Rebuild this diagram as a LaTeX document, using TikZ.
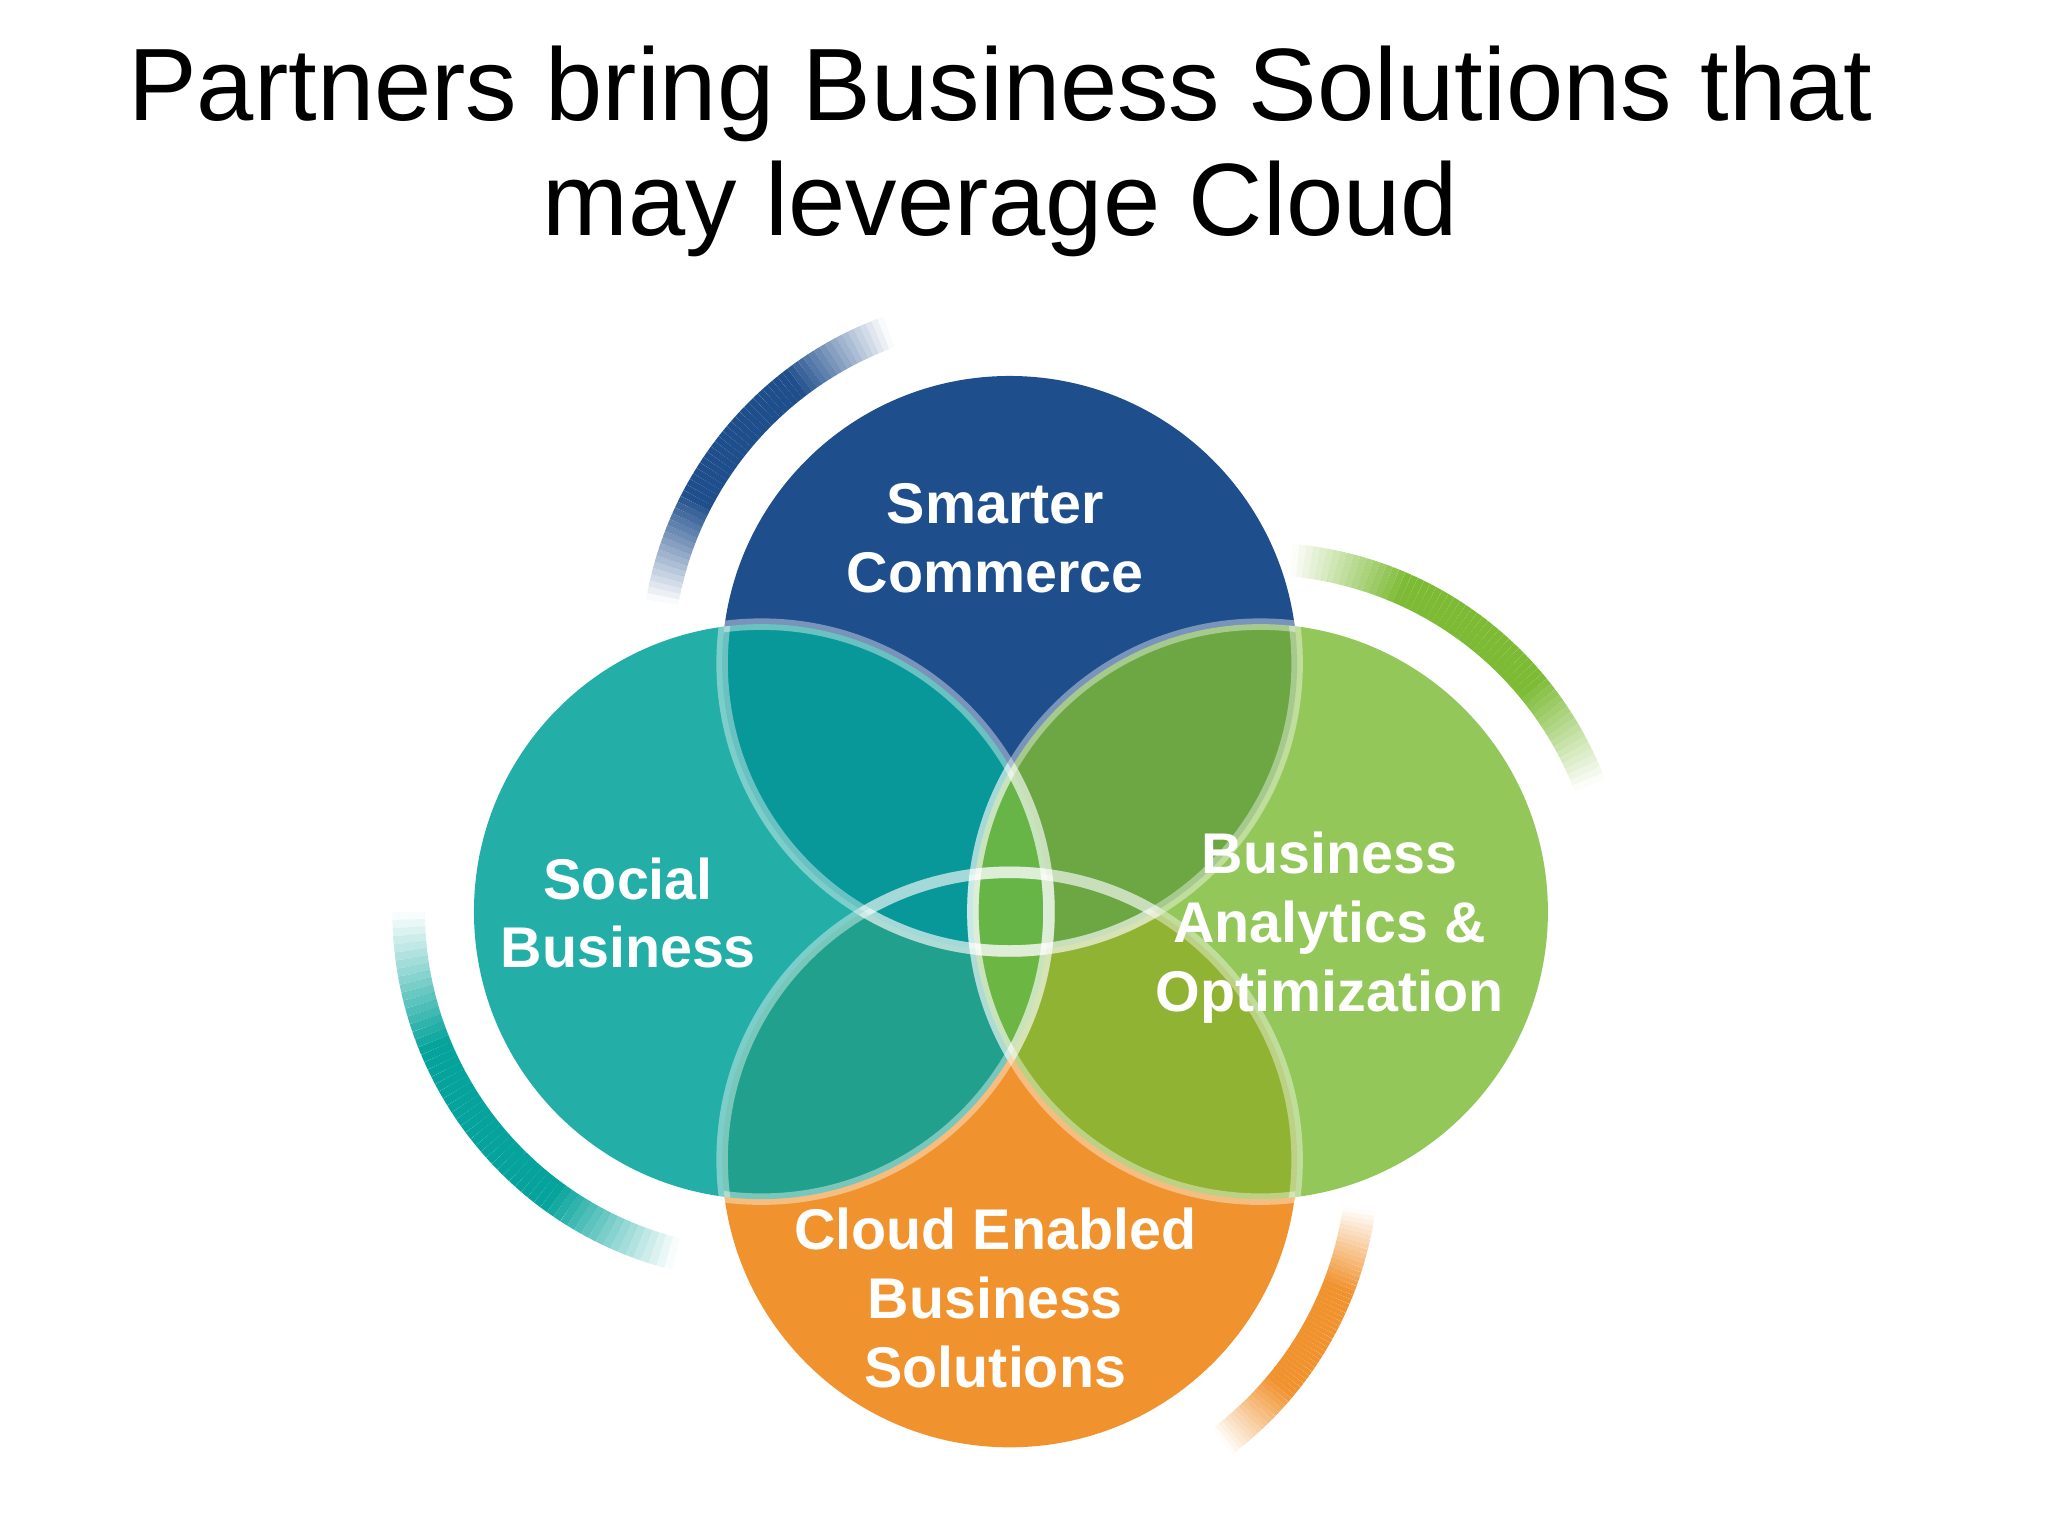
\documentclass[tikz,border=0pt]{standalone}
\usepackage{fontspec}
\setmainfont{Liberation Sans}
\begin{document}
\begin{tikzpicture}[x=0.01cm,y=0.01cm,
  lbl/.style={text=white,font=\fontsize{12.5}{15}\selectfont\bfseries,align=center}]
\definecolor{cblue}{HTML}{1F4E8C}
\definecolor{cteal}{HTML}{05A39B}
\definecolor{cgreen}{HTML}{7DBB35}
\definecolor{corange}{HTML}{F0922E}
\useasboundingbox (0,0) rectangle (1568,1176);
\coordinate (T) at (773,668);
\coordinate (L) at (583,478);
\coordinate (R) at (965,478);
\coordinate (B) at (773,288);
% outer fading arcs
\foreach \c/\col/\a/\b in {T/cblue/170/110, R/cgreen/85/21, L/cteal/180/256, B/corange/-8/-53}{
  \foreach \i in {0,...,59}{
    \pgfmathsetmacro{\sa}{\a+(\b-\a)*\i/60}
    \pgfmathsetmacro{\ea}{\a+(\b-\a)*(\i+1)/60}
    \pgfmathsetmacro{\op}{min(1,1.7*(1-abs(\i-29.5)/30))}
    \draw[\col,line width=0.25cm,draw opacity=\op,line cap=butt] (\c) ++(\sa:2.7cm) arc[start angle=\sa,end angle=\ea,radius=2.7cm];
  }
}
% discs
\fill[corange] (B) circle[radius=2.2cm];
\fill[cblue] (T) circle[radius=2.2cm];
\fill[cteal,fill opacity=0.88] (L) circle[radius=2.2cm];
\fill[cgreen,fill opacity=0.82] (R) circle[radius=2.2cm];
% white overlap outlines
\foreach \p in {T,L,R,B}{
  \foreach \q in {T,L,R,B}{
    \ifx\p\q\else
    \begin{scope}
      \clip (\q) circle[radius=2.2cm];
      \draw[white,line width=2.5pt,draw opacity=0.4] (\p) circle[radius=2.2cm];
    \end{scope}
    \fi
  }
}
\node[lbl] (st) at (762,764) {Smarter\\Commerce};
\node[lbl] (so) at (481,477) {Social\\Business};
\node[lbl] (ba) at (1018,466) {Business\\Analytics \&\\Optimization};
\node[lbl] (cl) at (762,182) {Cloud Enabled\\Business\\Solutions};
\node[align=center,font=\fontsize{22.4}{25}\selectfont] (title) at (766,1060) {Partners bring Business Solutions that\\may leverage Cloud};
\end{tikzpicture}
\end{document}
